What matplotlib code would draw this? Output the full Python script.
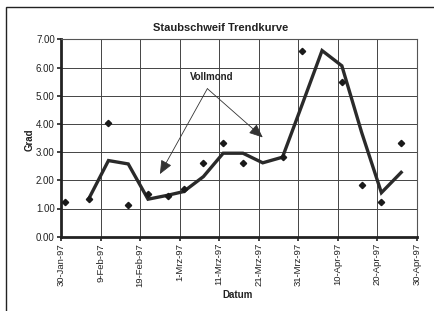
import numpy as np
import matplotlib
matplotlib.use("Agg")
import matplotlib.pyplot as plt
import matplotlib.dates as mdates
from matplotlib.patches import Rectangle

plt.rcParams['font.family'] = ['Liberation Sans', 'DejaVu Sans']

# measurements (diamonds)
mess_tage = ['1997-01-31', '1997-02-06', '1997-02-11', '1997-02-16', '1997-02-21',
             '1997-02-26', '1997-03-02', '1997-03-07', '1997-03-12', '1997-03-17',
             '1997-03-27', '1997-04-01', '1997-04-11', '1997-04-16', '1997-04-21',
             '1997-04-26']
mess_werte = [1.22, 1.34, 4.02, 1.12, 1.52, 1.45, 1.70, 2.61, 3.31, 2.61,
              2.84, 6.58, 5.50, 1.83, 1.22, 3.33]

# trend curve (moving average)
trend_tage = ['1997-02-06', '1997-02-11', '1997-02-16', '1997-02-21', '1997-02-26',
              '1997-03-02', '1997-03-07', '1997-03-12', '1997-03-17', '1997-03-22',
              '1997-03-27', '1997-04-01', '1997-04-06', '1997-04-11', '1997-04-16',
              '1997-04-21', '1997-04-26']
trend_werte = [1.34, 2.70, 2.58, 1.33, 1.47, 1.60, 2.13, 2.96, 2.96, 2.62,
               2.82, 4.70, 6.60, 6.06, 3.70, 1.56, 2.28]

tick_tage = ['1997-01-30', '1997-02-09', '1997-02-19', '1997-03-01', '1997-03-11',
             '1997-03-21', '1997-03-31', '1997-04-10', '1997-04-20', '1997-04-30']
monate = {1: 'Jan', 2: 'Feb', 3: 'Mrz', 4: 'Apr'}


def dnum(s):
    return mdates.date2num(np.datetime64(s, 's').astype(object))


mt = np.array(mess_tage, dtype='datetime64[D]')
tt = np.array(trend_tage, dtype='datetime64[D]')
ticks = np.array(tick_tage, dtype='datetime64[D]')

fig = plt.figure(figsize=(4.35, 3.11), dpi=100)
ax = fig.add_axes([61 / 435, 1 - 236.7 / 311, 356 / 435, 197.4 / 311])

# outer frame
fig.patches.append(Rectangle((6 / 435, -0.1), 1.2, 1 - 6.5 / 311 + 0.1,
                             transform=fig.transFigure, fill=False,
                             edgecolor='#222222', linewidth=1.0))

ax.plot(tt, trend_werte, color='#2a2a2a', linewidth=2.4, solid_joinstyle='miter', zorder=3)
ax.plot(mt, mess_werte, linestyle='none', marker='D', markersize=3.2,
        color='#1a1a1a', zorder=4)

ax.set_ylim(0, 7)
ax.set_yticks(np.arange(0, 7.01, 1))
ax.set_yticklabels([f"{v:.2f}" for v in np.arange(0, 7.01, 1)])
ax.set_xlim(ticks[0], ticks[-1])
ax.set_xticks([dnum(t) for t in tick_tage])
labels = []
for d in ticks.astype(object):
    labels.append(f"{d.day}-{monate[d.month]}-{d.year % 100:02d}")
ax.set_xticklabels(labels, rotation=90)

ax.grid(True, color='#444444', linewidth=0.7)
ax.set_axisbelow(True)
ax.tick_params(axis='both', length=3, width=1.2, direction='out',
               colors='#222222', pad=1.5)
ax.tick_params(axis='y', labelsize=7)
ax.tick_params(axis='x', labelsize=6.8)
for s in ['left', 'bottom']:
    ax.spines[s].set_linewidth(2.0)
    ax.spines[s].set_color('#222222')
for s in ['top', 'right']:
    ax.spines[s].set_linewidth(0.8)
    ax.spines[s].set_color('#555555')

fig.text(221 / 435, 1 - 28 / 311, 'Staubschweif Trendkurve', ha='center', va='center',
         fontsize=8, fontweight='bold', color='#222222')
fig.text(30 / 435, 1 - 140 / 311, 'Grad', ha='center', va='center', rotation=90,
         fontsize=7, fontweight='bold', color='#222222')
fig.text(238 / 435, 1 - 295 / 311, 'Datum', ha='center', va='center',
         fontsize=7, fontweight='bold', color='#222222')

# annotation
ax.text(dnum('1997-03-09'), 5.65, 'Vollmond', ha='center', va='center', fontsize=7,
        fontweight='bold', color='#222222')
start = (dnum('1997-03-08'), 5.25)
for ziel_tag, ziel_wert in [('1997-02-24', 2.22), ('1997-03-22', 3.52)]:
    ax.annotate('', xy=(dnum(ziel_tag), ziel_wert), xytext=start,
                arrowprops=dict(arrowstyle='-|>,head_length=0.7,head_width=0.3',
                                color='#333333', linewidth=0.6,
                                mutation_scale=12, shrinkA=0, shrinkB=0))

fig.savefig('out.png', dpi=100)
